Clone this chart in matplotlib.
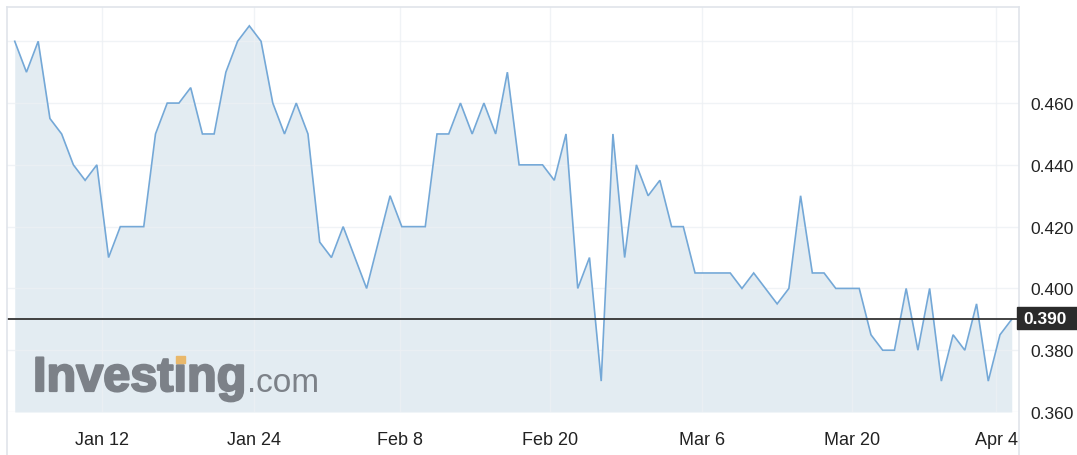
import matplotlib
matplotlib.use("Agg")
import matplotlib.pyplot as plt
import matplotlib.patheffects as pe
from matplotlib.lines import Line2D
from matplotlib.patches import Rectangle

plt.rcParams['font.family'] = ['Liberation Sans', 'DejaVu Sans']

# ---- data ----
prices = [0.480, 0.470, 0.480, 0.455, 0.450, 0.440, 0.435, 0.440, 0.410, 0.420,
          0.420, 0.420, 0.450, 0.460, 0.460, 0.465, 0.450, 0.450, 0.470, 0.480,
          0.485, 0.480, 0.460, 0.450, 0.460, 0.450, 0.415, 0.410, 0.420, 0.410,
          0.400, 0.415, 0.430, 0.420, 0.420, 0.420, 0.450, 0.450, 0.460, 0.450,
          0.460, 0.450, 0.470, 0.440, 0.440, 0.440, 0.435, 0.450, 0.400, 0.410,
          0.370, 0.450, 0.410, 0.440, 0.430, 0.435, 0.420, 0.420, 0.405, 0.405,
          0.405, 0.405, 0.400, 0.405, 0.400, 0.395, 0.400, 0.430, 0.405, 0.405,
          0.400, 0.400, 0.400, 0.385, 0.380, 0.380, 0.400, 0.380, 0.400, 0.370,
          0.385, 0.380, 0.395, 0.370, 0.385, 0.390]
x_tick_labels = ["Jan 12", "Jan 24", "Feb 8", "Feb 20", "Mar 6", "Mar 20", "Apr 4"]
x_tick_index = [7.47, 20.43, 32.85, 45.64, 58.62, 71.36, 83.68]
y_ticks = [0.360, 0.380, 0.400, 0.420, 0.440, 0.460, 0.480]
y_tick_labels = ["0.360", "0.380", "0.400", "0.420", "0.440", "0.460", ""]
last_price = 0.390

W, H = 1077, 456
fig = plt.figure(figsize=(W / 100, H / 100), dpi=100)


def fx(px):
    return px / W


def fy(py):
    return 1 - py / H


ax = fig.add_axes([fx(7), fy(413), fx(1019) - fx(7), fy(8) - fy(413)])
x = list(range(len(prices)))
ax.fill_between(x, prices, y_ticks[0], color='#e3ecf2', lw=0, zorder=1)
ax.plot(x, prices, color='#74a8d7', lw=1.2, zorder=3, solid_joinstyle='miter')
ax.set_xlim(-0.66, 85.62)
ax.set_ylim(0.360, 0.4911)

for s in ax.spines.values():
    s.set_visible(False)

ax.yaxis.tick_right()
ax.set_yticks(y_ticks)
ax.set_yticklabels(y_tick_labels)
ax.set_xticks(x_tick_index)
ax.set_xticklabels(x_tick_labels)
ax.tick_params(axis='y', length=0, pad=8, labelsize=12.5, labelcolor='#222222')
ax.tick_params(axis='x', length=0, pad=14, labelsize=13, labelcolor='#222222')
ax.set_axisbelow(False)
ax.grid(True, color='#edf0f4', lw=1, alpha=0.8)

ax.axhline(last_price, color='#333333', lw=1.3, zorder=4)

# panel border
border = '#e0e4ea'
for (x0, y0, x1, y1) in [(7, 8, 1019, 8), (7, 8, 7, 456), (1019, 8, 1019, 456)]:
    fig.add_artist(Line2D([fx(x0), fx(x1)], [fy(y0), fy(y1)], color=border, lw=1.2,
                          transform=fig.transFigure))

# last price badge
fig.add_artist(Rectangle((fx(1017), fy(330)), fx(1077) - fx(1017), fy(308) - fy(330),
                         transform=fig.transFigure, color='#2b2b2b', zorder=5))
fig.text(fx(1045), fy(320), f"{last_price:.3f}", color='white', ha='center', va='center',
         fontsize=12.5, fontweight='bold', zorder=6)

# watermark logo
logo_col = '#7c8188'
logo_fs = 35
stroke = [pe.withStroke(linewidth=1.6, foreground=logo_col)]
renderer = fig.canvas.get_renderer()
probe = fig.text(fx(33), fy(392), "Invest", fontsize=logo_fs, fontweight='bold',
                 va='baseline', ha='left')
i_left = probe.get_window_extent(renderer).x1
probe.remove()
main = fig.text(fx(33), fy(392), "Invest\u0131ng", fontsize=logo_fs, fontweight='bold',
                color=logo_col, va='baseline', ha='left', zorder=6, path_effects=stroke)
main_right = main.get_window_extent(renderer).x1
fig.text(main_right / W + fx(1), fy(392), ".com", fontsize=24, color=logo_col,
         va='baseline', ha='left', zorder=6)
em = logo_fs * 100 / 72
dot_x0 = i_left + 0.05 * em
dot_x1 = i_left + 0.23 * em
fig.add_artist(Rectangle((dot_x0 / W, fy(392) + 0.575 * em / H), (dot_x1 - dot_x0) / W,
                         0.15 * em / H, transform=fig.transFigure, color='#e9b86a', zorder=7))

fig.savefig("out.png", dpi=100)
